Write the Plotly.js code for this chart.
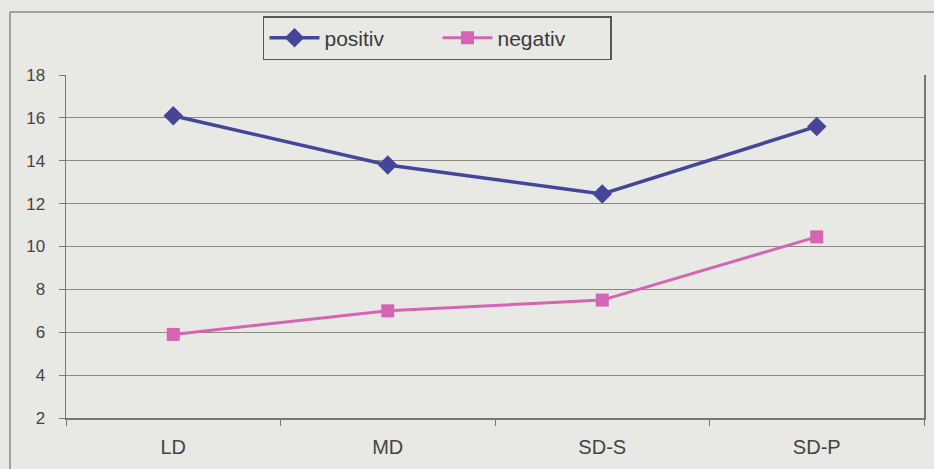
<!DOCTYPE html>
<html>
<head>
<meta charset="utf-8">
<script src="https://cdn.plot.ly/plotly-3.0.1.min.js"></script>
<style>
html,body{margin:0;padding:0;background:#e8e8e5;}
#chart{width:934px;height:469px;}
</style>
</head>
<body>
<div id="chart"></div>
<script>
const categories = ["LD", "MD", "SD-S", "SD-P"];
const positiv = [16.1, 13.8, 12.45, 15.6];
const negativ = [5.9, 7.0, 7.5, 10.45];
const yTicks = [2, 4, 6, 8, 10, 12, 14, 16, 18];

const traces = [
  {
    x: categories, y: positiv, name: "positiv", type: "scatter", mode: "lines+markers",
    line: {color: "#45459a", width: 3.5},
    marker: {symbol: "diamond", size: 15, color: "#45459a"}
  },
  {
    x: categories, y: negativ, name: "negativ", type: "scatter", mode: "lines+markers",
    line: {color: "#d465b2", width: 3},
    marker: {symbol: "square", size: 13, color: "#d465b2"}
  }
];

const fx = -56/858, fy = (418-12)/343;
const layout = {
  width: 934, height: 469,
  margin: {l: 66, r: 10, t: 75, b: 51},
  paper_bgcolor: "#e8e8e5",
  plot_bgcolor: "#e8e8e5",
  font: {family: "Liberation Sans, Arial, sans-serif", color: "#444"},
  showlegend: true,
  legend: {
    orientation: "h", x: 0.2296, y: 1.172, xanchor: "left", yanchor: "top",
    bgcolor: "#e8e8e5", bordercolor: "#555", borderwidth: 1.5,
    font: {size: 21, color: "#3a3a3a"}, itemwidth: 50, tracegroupgap: 0,
    entrywidth: 108
  },
  xaxis: {
    type: "category", range: [-0.5, 3.5], tickson: "boundaries",
    ticks: "outside", ticklen: 6, tickcolor: "#777",
    showline: true, linecolor: "#777", linewidth: 1.5,
    showgrid: false, zeroline: false, ticklabelstandoff: 10,
    tickfont: {size: 20, color: "#444"}
  },
  yaxis: {
    range: [2, 18], tickvals: yTicks, ticks: "outside", ticklen: 6, tickcolor: "#777",
    showline: true, mirror: true, linecolor: "#777", linewidth: 1.5,
    showgrid: true, gridcolor: "#8a8a82", gridwidth: 1.2, zeroline: false,
    ticklabelstandoff: 10,
    tickfont: {size: 17, color: "#444"}
  },
  shapes: [
    {type: "line", xref: "paper", yref: "paper", x0: fx, x1: fx, y0: -0.2, y1: fy, line: {color: "#888", width: 1.5}},
    {type: "line", xref: "paper", yref: "paper", x0: fx, x1: 1.1, y0: fy, y1: fy, line: {color: "#888", width: 1.5}}
  ]
};

Plotly.newPlot("chart", traces, layout, {displayModeBar: false, staticPlot: true});
</script>
</body>
</html>
